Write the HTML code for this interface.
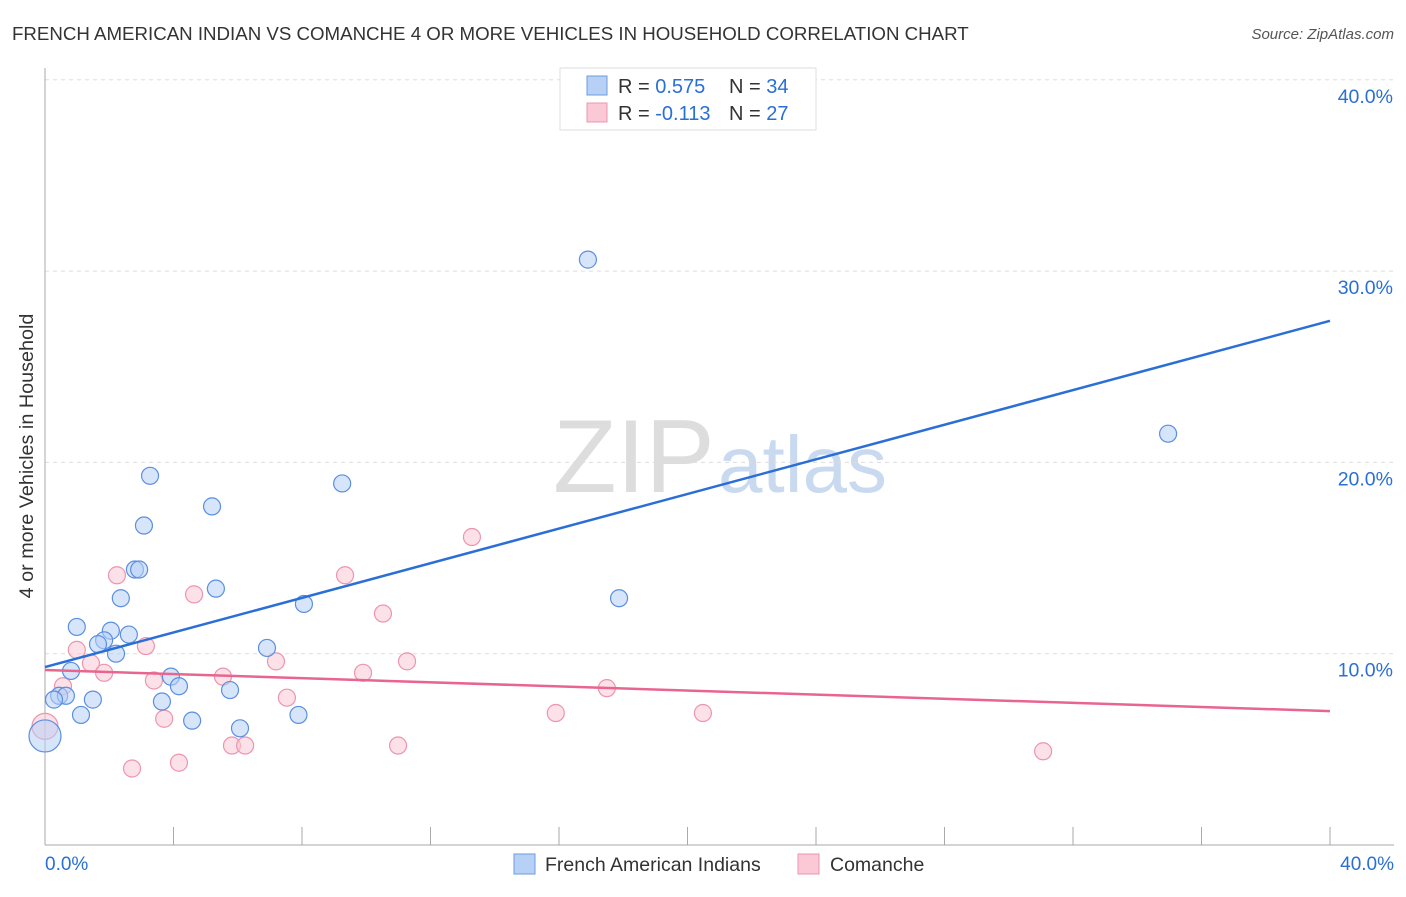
<!DOCTYPE html>
<html><head><meta charset="utf-8"><style>
body{margin:0;background:#fff;font-family:"Liberation Sans",sans-serif}
svg text{font-family:"Liberation Sans",sans-serif}
</style></head><body>
<svg width="1406" height="892" viewBox="0 0 1406 892">
<text x="12" y="40" font-size="18.7" fill="#333">FRENCH AMERICAN INDIAN VS COMANCHE 4 OR MORE VEHICLES IN HOUSEHOLD CORRELATION CHART</text>
<text x="1394" y="39" font-size="15" fill="#555" text-anchor="end" font-style="italic">Source: ZipAtlas.com</text>
<text x="33" y="456" font-size="19.8" fill="#333" text-anchor="middle" transform="rotate(-90 33 456)">4 or more Vehicles in Household</text>
<text x="553" y="492" font-size="104" fill="#ddd" font-family="Liberation Serif">ZIP</text>
<text x="718" y="492" font-size="80" fill="#c9daf0">atlas</text>
<g id="grid"></g>
<line x1="45" y1="68" x2="45" y2="845" stroke="#aaa"/>
<line x1="45" y1="845" x2="1394" y2="845" stroke="#aaa"/>
<g id="ticks"></g>
<g id="pts"></g>
<g id="lines"></g>
<g>
<rect x="560" y="68" width="256" height="62" fill="#fff" stroke="#ddd"/>
<rect x="587" y="76" width="20" height="19" fill="#b7d0f5" stroke="#6a9be0"/>
<rect x="587" y="103" width="20" height="19" fill="#fbc8d6" stroke="#ee94ad"/>
<text x="618" y="93" font-size="20" fill="#333">R = <tspan fill="#2a6fd6">0.575</tspan><tspan x="729">N = </tspan><tspan fill="#2a6fd6">34</tspan></text>
<text x="618" y="120" font-size="20" fill="#333">R = <tspan fill="#2a6fd6">-0.113</tspan><tspan x="729">N = </tspan><tspan fill="#2a6fd6">27</tspan></text>
</g>
<g>
<rect x="514" y="854" width="21" height="20" fill="#b7d0f5" stroke="#6a9be0"/>
<text x="545" y="871" font-size="19.5" fill="#333">French American Indians</text>
<rect x="798" y="854" width="21" height="20" fill="#fbc8d6" stroke="#ee94ad"/>
<text x="830" y="871" font-size="19.5" fill="#333">Comanche</text>
</g>
<text x="45" y="870" font-size="19" fill="#2a6fd6">0.0%</text>
<text x="1394" y="870" font-size="19" fill="#2a6fd6" text-anchor="end">40.0%</text>
</svg>
<script>
const yTicks=[10,20,30,40];
const xTicks=[0,4,8,12,16,20,24,28,32,36,40];
const blueX=[3.27,5.2,9.25,3.08,2.8,2.93,5.32,2.36,8.06,0.99,2.05,2.61,1.84,1.65,2.21,6.91,0.81,3.92,4.17,5.76,0.44,0.65,0.28,1.49,3.64,1.12,4.58,6.07,7.89,16.9,34.96,17.87,0];
const blueY=[19.3,17.7,18.9,16.7,14.4,14.4,13.4,12.9,12.6,11.4,11.2,11.0,10.7,10.5,10.0,10.3,9.1,8.8,8.3,8.1,7.8,7.8,7.6,7.6,7.5,6.8,6.5,6.1,6.8,30.6,21.5,12.9,5.7];
const blueR=[8.5,8.5,8.5,8.5,8.5,8.5,8.5,8.5,8.5,8.5,8.5,8.5,8.5,8.5,8.5,8.5,8.5,8.5,8.5,8.5,8.5,8.5,8.5,8.5,8.5,8.5,8.5,8.5,8.5,8.5,8.5,8.5,16];
const pinkX=[2.24,4.64,9.34,13.29,10.52,3.14,0.99,1.43,1.84,7.19,5.54,9.9,11.27,3.39,0.56,7.53,17.49,15.9,20.48,3.71,5.82,6.23,10.99,2.71,4.17,31.07,0];
const pinkY=[14.1,13.1,14.1,16.1,12.1,10.4,10.2,9.5,9.0,9.6,8.8,9.0,9.6,8.6,8.3,7.7,8.2,6.9,6.9,6.6,5.2,5.2,5.2,4.0,4.3,4.9,6.2];
const pinkR=[8.5,8.5,8.5,8.5,8.5,8.5,8.5,8.5,8.5,8.5,8.5,8.5,8.5,8.5,8.5,8.5,8.5,8.5,8.5,8.5,8.5,8.5,8.5,8.5,8.5,8.5,13];
const blueTrend=[9.3,27.4];
const pinkTrend=[9.15,7.0];
const NS='http://www.w3.org/2000/svg';
const xs=v=>45+v*32.125, ys=v=>845-v*19.13;
function mk(t,a,p){const e=document.createElementNS(NS,t);for(const k in a)e.setAttribute(k,a[k]);document.getElementById(p).appendChild(e);return e;}
yTicks.forEach(v=>{
 const l=mk('line',{x1:45,x2:1394,y1:ys(v),y2:ys(v),stroke:'#ddd','stroke-dasharray':'4 4'},'grid');
 
 
 const t=mk('text',{x:1393,y:ys(v)+23,'font-size':19.5,fill:'#2a6fd6','text-anchor':'end'},'ticks');
 t.textContent=v.toFixed(1)+'%';
 
 
});
xTicks.forEach(v=>{
 const l=mk('line',{x1:xs(v),x2:xs(v),y1:827,y2:845,stroke:'#aaa'},'ticks');
 
 
});
function pts(X,Y,R,f,s,n){X.forEach((x,i)=>{
 const c=mk('circle',{cx:xs(x),cy:ys(Y[i]),r:R[i],fill:f,stroke:s,'stroke-width':1.2,'fill-opacity':0.55},'pts');
 
 
});}
pts(pinkX,pinkY,pinkR,'#fbc8d6','#ee94ad','comanche-point');
pts(blueX,blueY,blueR,'#b7d0f5','#5b8fe0','french-american-indian-point');
const b=mk('line',{x1:xs(0),y1:ys(blueTrend[0]),x2:xs(40),y2:ys(blueTrend[1]),stroke:'#2a6fd6','stroke-width':2.5},'lines');


const p=mk('line',{x1:xs(0),y1:ys(pinkTrend[0]),x2:xs(40),y2:ys(pinkTrend[1]),stroke:'#e8658f','stroke-width':2.5},'lines');


</script>
</body></html>
